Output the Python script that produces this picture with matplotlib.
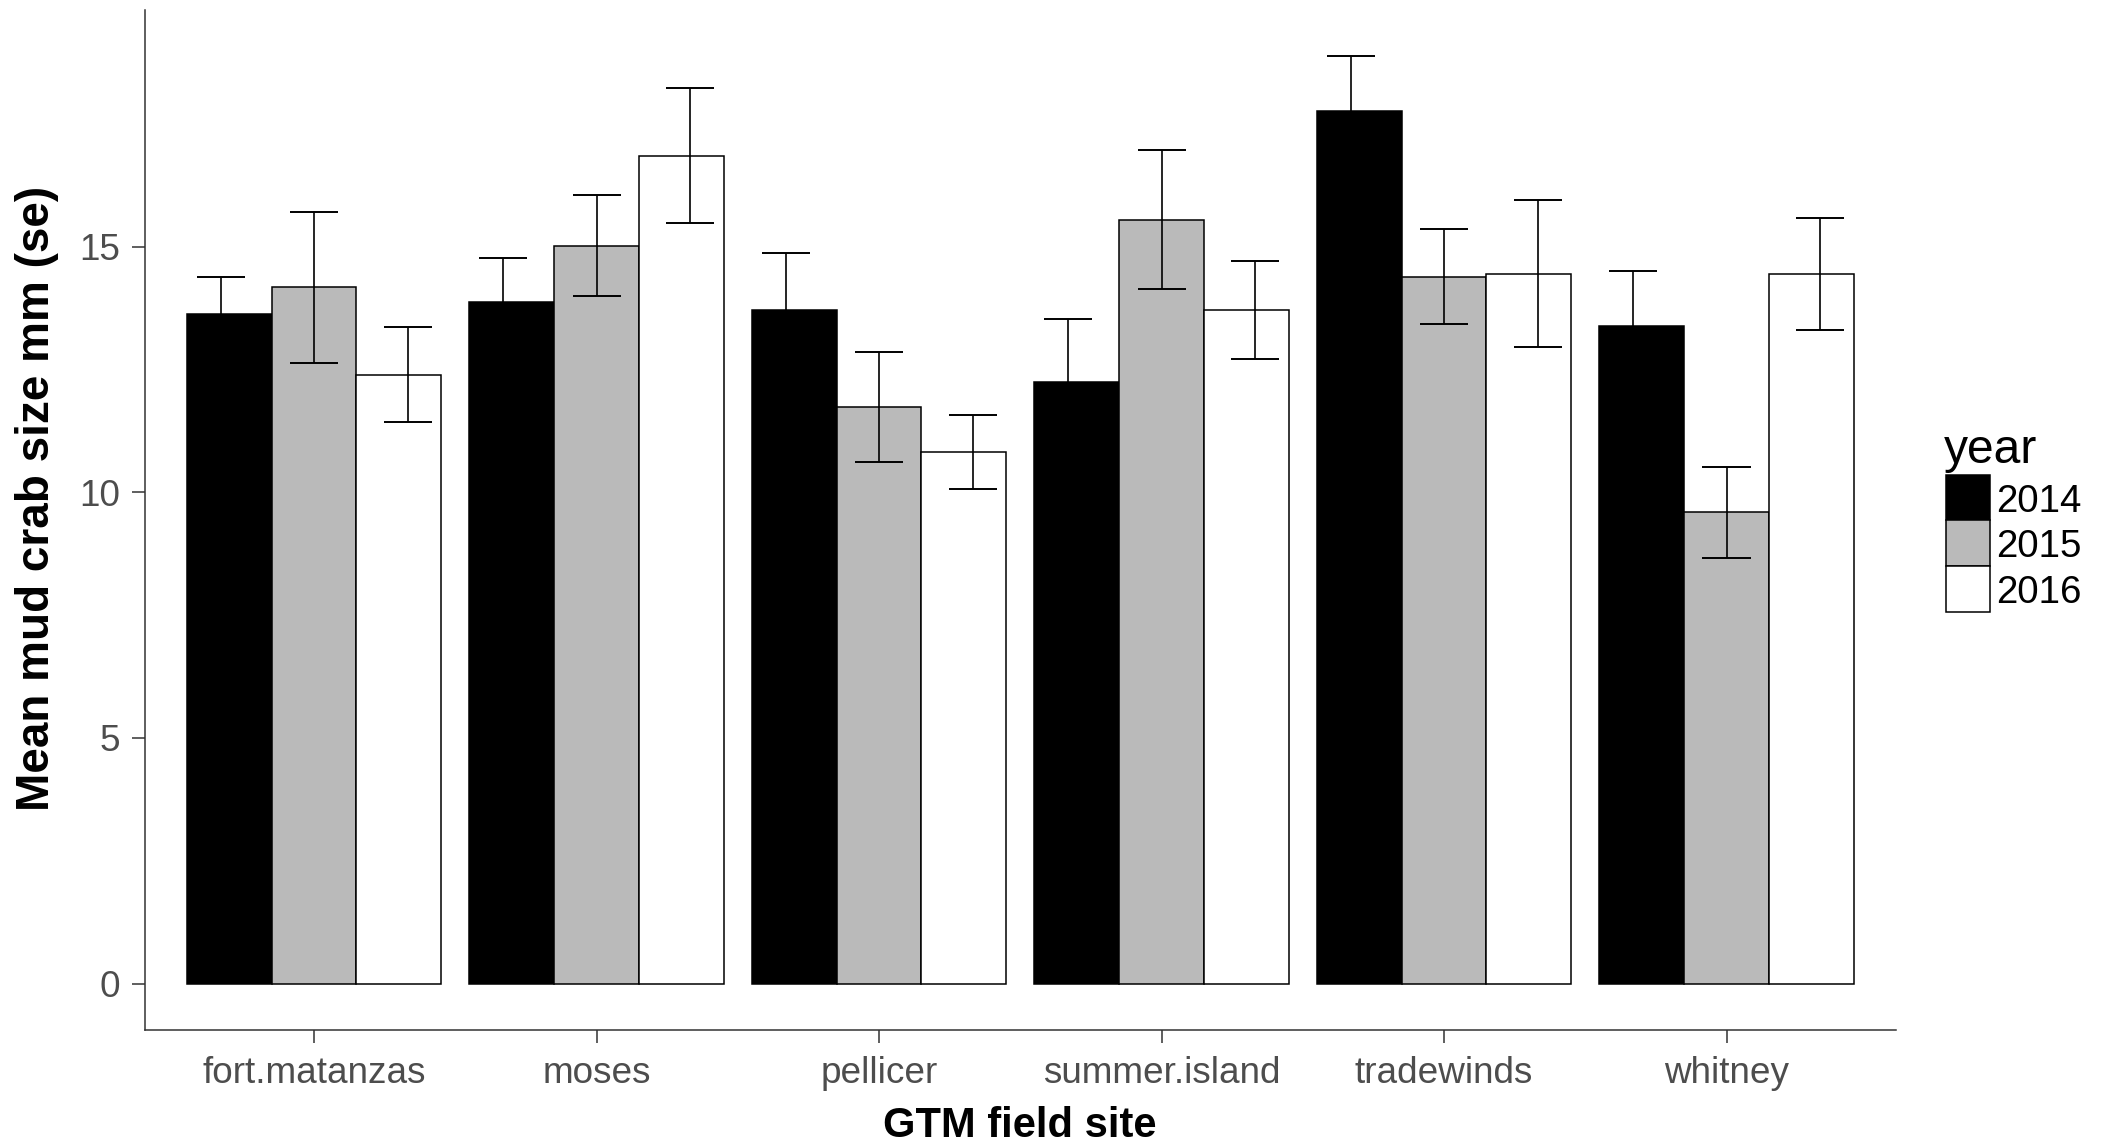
import matplotlib
matplotlib.use("Agg")
import matplotlib.pyplot as plt
import numpy as np
from matplotlib.patches import Rectangle

plt.rcParams['font.family'] = ['Liberation Sans', 'DejaVu Sans']

sites = ['fort.matanzas', 'moses', 'pellicer', 'summer.island', 'tradewinds', 'whitney']
years = ['2014', '2015', '2016']
mean_2014 = [13.63, 13.87, 13.70, 12.25, 17.75, 13.38]
se_2014 = [0.75, 0.89, 1.16, 1.28, 1.12, 1.13]
mean_2015 = [14.17, 15.02, 11.73, 15.55, 14.39, 9.59]
se_2015 = [1.54, 1.03, 1.12, 1.41, 0.97, 0.93]
mean_2016 = [12.39, 16.85, 10.82, 13.71, 14.45, 14.44]
se_2016 = [0.97, 1.37, 0.75, 1.00, 1.49, 1.14]
fills = ['#000000', '#BABABA', '#FFFFFF']
yticks = [0, 5, 10, 15]

W, H = 2101, 1143
fig = plt.figure(figsize=(W / 100, H / 100), dpi=100)
ax_l, ax_r, ax_t, ax_b = 144.6, 1896, 10.0, 1030
ax = fig.add_axes([ax_l / W, 1 - ax_b / H, (ax_r - ax_l) / W, (ax_b - ax_t) / H])

means = [mean_2014, mean_2015, mean_2016]
ses = [se_2014, se_2015, se_2016]
x = np.arange(len(sites))
bw = 0.3
err_dodge = 0.331
cap_half = 0.085

for j in range(3):
    ax.bar(x + (j - 1) * bw, means[j], bw, color=fills[j], edgecolor='black',
           linewidth=1.1, zorder=2, label=years[j])
for j in range(3):
    m = np.array(means[j]); s = np.array(ses[j])
    xe = x + (j - 1) * err_dodge
    ax.vlines(xe, m - s, m + s, color='black', lw=1.2, zorder=3)
    ax.hlines(m - s, xe - cap_half, xe + cap_half, color='black', lw=1.4, zorder=3)
    ax.hlines(m + s, xe - cap_half, xe + cap_half, color='black', lw=1.4, zorder=3)

top = max(max(np.array(means[j]) + np.array(ses[j])) for j in range(3))
ax.set_ylim(-0.05 * top, 1.05 * top)
ax.set_xlim(-0.6, len(sites) - 0.4)
ax.set_xticks(x)
ax.set_xticklabels(sites)
ax.set_yticks(yticks)
ax.set_yticklabels([str(v) for v in yticks])

for sp in ['top', 'right']:
    ax.spines[sp].set_visible(False)
for sp in ['left', 'bottom']:
    ax.spines[sp].set_color('#333333')
    ax.spines[sp].set_linewidth(1.1)
ax.tick_params(axis='both', length=9.4, width=1.1, color='#333333',
               labelcolor='#4D4D4D', labelsize=26.6)
ax.tick_params(axis='y', pad=8)
ax.tick_params(axis='x', pad=9)

fig.text(1020 / W, 1 - 1137 / H, 'GTM field site', ha='center', va='baseline',
         fontsize=30, fontweight='bold', color='black')
fig.text(37.5 / W, 1 - 498 / H, 'Mean mud crab size mm (se)', ha='center',
         va='center', rotation=90, fontsize=33, fontweight='bold', color='black')

# legend (drawn in figure pixel coordinates)
def fx(px):
    return px / W

def fy(py):
    return 1 - py / H

fig.text(fx(1943.8), fy(463), 'year', ha='left', va='baseline', fontsize=34.6, color='black')
key_l, key_w, key_t, key_h = 1945.5, 44.5, 474.7, 45.7
for j in range(3):
    t = key_t + j * key_h
    fig.add_artist(Rectangle((fx(key_l), fy(t + key_h)), key_w / W, key_h / H,
                             transform=fig.transFigure, facecolor=fills[j],
                             edgecolor='black', linewidth=1.1))
    fig.text(fx(1996), fy(t + 37), years[j], ha='left', va='baseline',
             fontsize=27.7, color='black')

fig.savefig('out.png', dpi=100)
